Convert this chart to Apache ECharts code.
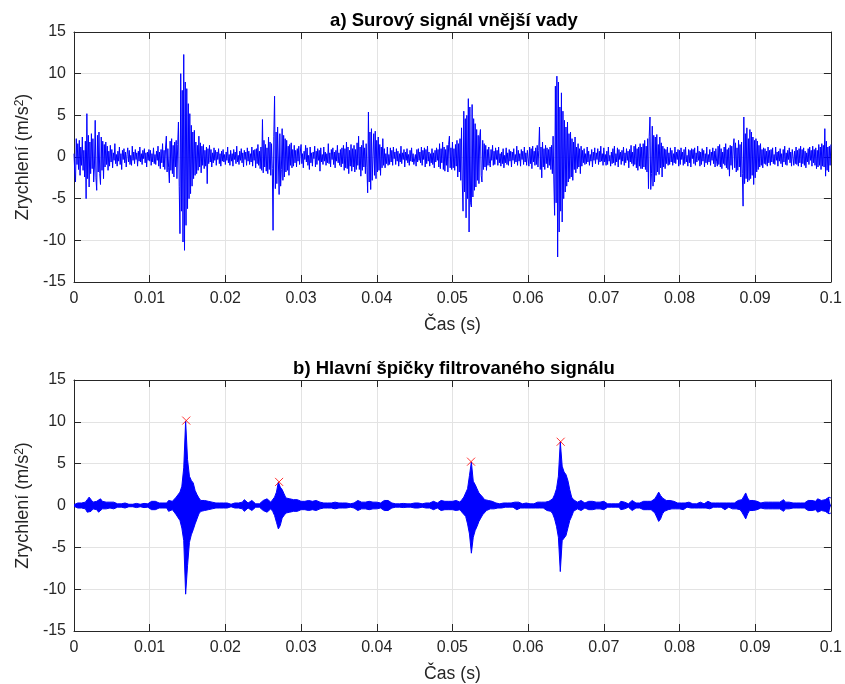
<!DOCTYPE html>
<html><head><meta charset="utf-8">
<script src="https://cdn.jsdelivr.net/npm/echarts@6/dist/echarts.min.js"></script>
<style>html,body{margin:0;padding:0;background:#fff}#c{width:845px;height:684px}</style>
</head><body><div id="c"></div>
<script>
// ---- data ----
const titles = ['a) Surový signál vnější vady', 'b) Hlavní špičky filtrovaného signálu'];
const xLabel = 'Čas (s)';
const yLabel = 'Zrychlení (m/s{sup|2})';

// raw signal, sample step 0.1 ms (one row = 1 ms)
const rawDt = 0.0001;
const rawSignal = [
 0.4,-1.8,-3.0,2.2,-0.9,1.6,-1.5,2.0,-2.2,1.2,
 -1.0,2.4,-1.6,0.8,-2.4,1.9,-5.0,5.2,-2.6,2.6,
 -3.6,1.8,-2.0,2.8,-1.4,2.2,-3.0,-1.2,4.4,-2.5,
 -4.0,2.6,-1.8,3.0,-2.0,-3.3,2.4,-1.6,1.9,-2.6,
 1.5,-1.2,1.8,-0.9,1.3,-1.6,0.7,-1.1,1.4,-0.6,
 0.9,-1.3,0.5,-0.4,1.6,-0.8,0.3,-1.1,0.7,-0.5,
 1.2,-0.9,0.4,-1.5,0.8,-0.3,1.0,-0.7,0.6,-1.2,
 0.3,1.1,-0.6,0.8,-0.9,0.2,-1.0,1.3,-0.4,0.6,
 -0.8,0.9,-0.3,0.5,-1.1,0.7,-0.5,1.2,-0.6,0.4,
 -0.9,0.8,-0.2,1.0,-0.7,0.5,-1.2,0.6,-0.4,0.9,
 -0.5,0.8,-1.0,0.4,-0.6,1.1,-0.8,0.3,-0.9,0.7,
 -0.4,1.3,-1.1,0.6,-1.4,0.9,-0.7,1.6,-1.2,0.8,
 -1.5,1.2,2.5,-1.8,1.0,-1.3,-3.1,1.9,-1.6,2.2,
 -2.0,1.4,-2.4,1.8,-1.2,2.0,-2.6,1.5,4.2,-3.5,
 -9.2,10.0,-6.5,8.0,-10.2,12.3,-11.2,9.0,-8.2,8.2,
 -6.2,6.4,-5.0,5.2,-4.4,3.8,-3.5,3.0,-2.6,3.2,
 -2.2,1.8,-2.0,1.4,-1.6,2.5,-1.2,1.7,-1.9,1.3,
 -1.0,1.5,-1.4,0.8,-1.1,1.2,-3.2,1.0,-0.8,1.4,
 -0.6,0.9,-1.2,0.5,-0.7,1.1,-0.4,0.8,-1.0,0.6,
 -0.3,1.0,-0.8,0.4,-1.1,0.7,-0.5,0.9,-0.6,0.3,
 -0.9,0.6,-0.4,1.2,-0.7,0.3,-1.0,0.8,-0.5,0.4,
 -1.1,0.9,-0.3,0.6,-0.8,1.3,-0.6,0.2,-0.9,0.7,
 -0.4,1.0,-0.7,0.5,-1.2,0.8,-0.3,0.6,-1.0,1.1,
 -0.5,0.7,-0.9,0.4,-0.6,1.2,-1.1,0.8,-0.4,0.9,
 -1.3,1.0,-0.8,1.5,-1.0,0.7,-1.4,1.2,-1.6,4.5,
 -1.9,2.0,-1.2,1.5,-1.7,1.1,-2.0,2.4,-1.5,1.8,
 -2.2,1.6,-1.4,-8.8,2.5,7.3,-3.8,3.0,-3.2,3.6,
 3.5,-4.5,2.8,-3.5,-1.5,3.4,-2.8,2.6,-2.4,2.2,
 -1.8,2.0,-1.6,1.3,-2.2,1.5,-1.0,1.7,-1.3,0.9,
 -1.1,1.4,-0.7,0.8,-1.2,1.0,-0.5,1.3,-0.9,0.6,
 1.5,-0.8,0.4,-1.3,0.7,-0.3,1.4,-0.6,1.1,-1.0,
 0.2,-1.5,1.2,-0.7,0.5,-1.1,0.6,-0.2,1.3,-1.2,
 0.7,-0.9,1.0,-0.4,0.8,-1.7,1.1,-0.6,0.3,-0.9,
 1.2,-0.5,0.6,-1.0,0.4,-0.7,1.6,-0.8,0.5,-1.2,
 0.9,-0.3,1.1,-0.9,0.6,-1.3,0.8,-0.5,1.4,-0.7,
 0.5,-1.0,0.9,-1.2,1.1,-0.8,1.4,-1.6,1.0,-1.3,
 1.8,-1.4,1.2,-2.0,0.8,-1.1,1.5,-1.7,1.0,-1.2,
 1.4,-1.8,0.9,-1.5,1.7,-1.0,2.5,-1.5,1.2,-2.3,
 1.4,-1.6,2.0,-1.2,1.1,-2.0,1.6,-1.3,-4.3,5.4,
 -3.0,3.0,-3.9,3.4,-2.8,-3.0,2.8,-2.2,3.1,-2.6,
 2.0,-1.8,2.4,-1.6,1.5,-2.2,1.2,-1.3,2.2,-1.0,
 1.0,-1.3,0.4,-0.8,1.2,-1.0,0.3,-0.9,1.1,-0.6,
 0.8,-1.0,1.2,-0.2,0.6,-0.9,1.0,-0.5,0.7,-1.1,
 0.4,-0.6,1.3,-0.8,0.5,-0.3,0.9,-1.2,0.6,-0.4,
 1.0,-0.7,0.3,-1.0,0.8,-0.5,1.1,-0.6,0.4,-0.9,
 -0.8,0.3,-1.1,0.9,-0.6,1.0,-0.4,0.6,-0.7,1.2,
 -1.0,0.8,-0.3,1.1,-1.2,0.9,-0.8,1.3,-0.5,0.6,
 -1.1,0.4,-0.7,1.0,-0.9,0.5,-1.3,0.8,-0.6,1.1,
 -0.4,0.9,-1.2,1.6,-1.4,1.0,-0.7,1.8,-1.5,1.2,
 -1.7,0.9,-1.0,1.4,-1.8,1.5,2.5,-1.3,1.1,-1.5,
 1.8,-1.3,1.0,-1.6,1.5,-1.1,2.0,-2.4,1.6,-1.8,
 2.2,-2.8,3.5,-3.0,-6.5,5.5,-4.2,4.6,-7.3,5.0,
 -5.0,7.0,-9.0,6.0,-5.5,-6.0,6.3,-4.8,4.6,-4.0,
 4.0,-3.6,3.3,-2.8,2.6,-3.2,2.4,3.3,-2.2,-3.0,
 2.0,-1.5,1.6,-1.2,1.4,-1.6,0.9,-1.0,1.2,-0.8,
 -1.2,0.9,-0.4,1.4,-1.0,0.7,-0.9,1.1,-0.3,0.8,
 -1.0,1.2,-0.7,0.4,-1.1,0.6,-0.8,1.0,-1.3,0.2,
 -0.7,1.1,-0.9,0.5,-1.0,0.9,-0.5,0.7,-1.2,0.6,
 -0.4,1.0,-0.8,0.3,-0.6,1.3,-1.0,0.8,-0.5,0.4,
 -1.1,0.9,-0.3,0.7,-0.9,1.2,-0.6,0.5,-1.0,0.8,
 0.9,-1.1,1.2,-0.8,1.0,-1.4,1.3,-0.6,0.7,-1.0,
 1.1,-0.9,1.4,-1.2,0.8,3.6,-1.5,1.2,-2.5,1.8,
 -1.2,1.0,-1.5,1.4,-0.8,1.1,-1.3,0.9,-1.0,1.2,
 -1.5,1.4,-2.0,2.5,-3.0,-7.0,8.5,-5.5,9.7,-12.0,
 9.0,-9.0,6.0,-6.5,7.7,-7.8,5.5,-5.0,4.4,-4.2,
 3.6,-3.5,4.2,-3.0,2.8,-2.6,3.0,-2.4,2.2,-2.8,
 1.8,-1.5,2.4,-1.9,1.2,-1.4,1.6,-1.2,1.0,-2.0,
 1.3,-1.1,0.8,-0.7,1.0,-0.9,0.4,-0.8,1.2,-0.6,
 0.7,-1.0,0.3,-0.5,0.9,-1.2,0.6,-0.4,1.1,-0.8,
 0.5,-0.3,1.0,-0.9,0.7,-0.6,1.3,-0.5,0.4,-1.0,
 1.1,-0.6,0.3,-1.0,0.7,-0.9,1.2,-0.5,0.2,-1.1,
 0.6,-0.8,1.0,-0.7,1.3,-1.0,0.4,-0.6,1.1,-1.2,
 0.9,-0.3,0.6,-0.9,0.8,-0.5,1.2,-1.0,0.5,-0.7,
 1.0,-0.4,0.7,-1.3,0.9,-0.6,1.4,-0.8,0.6,-1.1,
 1.3,-0.9,1.5,-1.3,1.0,-1.6,1.2,-1.1,1.6,-1.4,
 1.2,-1.4,1.6,-1.2,2.0,-1.5,1.3,-1.8,2.2,-3.8,
 2.5,4.8,-3.9,-2.0,3.7,-3.5,2.6,-3.0,2.4,-2.2,
 2.7,-1.8,1.5,-2.1,2.4,-1.3,1.7,-2.4,1.3,-1.2,
 1.0,-1.4,0.9,-0.8,1.2,-1.0,0.5,-0.9,1.1,-0.6,
 0.8,-1.0,0.4,-0.7,1.2,-0.8,0.6,-0.3,0.9,-1.1,
 0.8,-0.9,1.1,-0.3,0.6,-1.0,0.9,-0.8,1.2,-0.6,
 0.2,-1.1,0.9,-0.7,0.8,-1.2,1.0,-0.2,0.9,-0.8,
 1.1,-1.0,0.5,-0.6,1.3,-0.4,0.7,-1.1,0.6,-0.9,
 1.0,-0.5,0.8,-1.2,0.4,-0.7,1.2,-0.9,0.3,-0.6,
 0.9,-1.0,0.6,-0.4,1.1,-0.8,0.7,-1.2,1.0,-0.5,
 -1.1,1.3,-0.9,1.5,-1.2,1.0,-1.4,0.6,-0.8,1.2,
 -1.0,1.6,-1.3,0.9,-1.5,1.1,-2.3,1.4,-1.0,1.3,
 -1.5,1.2,2.2,-1.3,1.7,-1.8,1.1,-1.6,2.0,-1.2,
 1.5,-2.4,1.8,-2.0,-5.9,4.8,-3.2,2.8,-2.6,3.5,
 -3.0,2.2,-2.8,3.3,-2.6,3.0,-2.2,2.4,-3.3,2.0,
 -2.5,2.2,-1.8,1.9,-1.5,1.4,-1.2,1.6,-1.0,0.9,
 -1.3,1.1,-0.8,1.0,-0.9,0.7,-1.1,1.2,-0.7,0.8,
 -1.0,0.9,-0.6,1.1,-0.8,0.3,-0.9,1.2,-0.4,0.6,
 -1.1,0.7,-0.5,1.0,-0.8,0.4,-1.2,0.9,-0.6,1.3,
 -0.9,0.5,-1.0,0.8,-0.3,1.1,-0.7,0.6,-1.1,0.9,
 0.9,-1.0,0.7,-0.8,1.2,-0.9,0.8,-1.1,1.0,-0.7,
 1.3,-1.2,0.9,-0.8,1.1,-1.0,0.7,-1.3,0.5,-0.6,
 1.0,-0.9,1.2,-0.4,0.8,-1.1,1.3,-0.7,0.9,-1.0,
 1.1,-1.4,0.8,-1.2,1.5,-1.0,1.2,-1.5,1.6,-1.1,
 1.4,-1.2,3.4,-2.3,1.9,-1.6,1.2,-1.8,1.3,-1.0,
 1.5
];

// filtered signal envelope, sample step 0.25 ms (one row = 5 ms)
const envDt = 0.00025;
const envUpper = [
 0.1,0.2,0.3,0.4,0.3,0.2,0.4,0.7,1.0,0.8,0.4,0.3,0.5,0.7,0.8,0.5,0.3,0.4,0.3,0.4,
 0.3,0.4,0.3,0.2,0.3,0.2,0.2,0.3,0.2,0.15,0.2,0.15,0.2,0.25,0.2,0.15,0.2,0.25,0.3,0.2,
 0.4,0.5,0.3,0.5,0.4,0.3,0.2,0.3,0.4,0.3,0.6,0.8,0.5,0.7,1.0,0.9,1.6,2.3,4.5,10.1,
 5.5,3.5,3.0,2.7,1.8,1.3,0.9,0.6,0.5,0.6,0.4,0.5,0.3,0.4,0.5,0.3,0.4,0.3,0.4,0.3,
 0.4,0.3,0.2,0.15,0.2,0.3,0.2,0.3,0.2,0.4,0.7,0.5,0.3,0.4,0.6,0.4,0.2,0.3,0.2,0.3,
 0.6,0.5,0.8,0.6,0.4,0.6,1.0,1.6,2.8,2.2,1.9,1.4,0.9,0.7,0.8,0.6,0.7,0.5,0.7,0.6,
 0.5,0.7,0.5,0.4,0.6,0.7,0.5,0.4,0.6,0.7,0.4,0.3,0.3,0.4,0.3,0.4,0.3,0.3,0.4,0.3,
 0.3,0.4,0.3,0.2,0.3,0.3,0.2,0.3,0.3,0.4,0.6,0.7,0.4,0.3,0.4,0.3,0.5,0.6,0.4,0.3,
 0.4,0.5,0.3,0.4,0.6,0.8,0.6,0.4,0.3,0.3,0.2,0.25,0.2,0.2,0.25,0.2,0.2,0.25,0.2,0.3,
 0.3,0.2,0.3,0.3,0.2,0.4,0.3,0.2,0.3,0.4,0.5,0.4,0.3,0.5,0.6,0.4,0.5,0.6,0.5,0.6,
 0.5,0.4,0.6,0.5,0.4,0.7,1.0,1.1,2.0,3.6,5.2,2.9,2.5,2.0,1.5,1.3,1.0,0.7,0.5,0.6,
 0.4,0.5,0.4,0.3,0.3,0.2,0.3,0.3,0.2,0.3,0.2,0.3,0.2,0.4,0.5,0.4,0.3,0.2,0.3,0.3,
 0.3,0.2,0.3,0.2,0.3,0.4,0.3,0.4,0.3,0.4,0.6,0.5,0.6,0.8,1.3,2.0,3.5,7.6,4.7,4.0,
 3.7,3.0,1.9,1.0,0.7,0.5,0.4,0.5,0.6,0.4,0.3,0.4,0.5,0.3,0.5,0.3,0.4,0.5,0.4,0.3,
 0.5,0.3,0.2,0.3,0.2,0.3,0.2,0.3,0.2,0.5,0.6,0.4,0.3,0.2,0.4,0.6,0.4,0.3,0.2,0.3,
 0.4,0.5,0.4,0.5,0.4,0.5,0.6,0.8,1.2,1.6,1.2,0.9,0.7,0.6,0.5,0.6,0.4,0.5,0.4,0.3,
 0.4,0.3,0.5,0.3,0.2,0.4,0.3,0.2,0.3,0.2,0.3,0.4,0.3,0.2,0.3,0.5,0.4,0.3,0.2,0.3,
 0.2,0.3,0.2,0.3,0.5,0.3,0.2,0.3,0.4,0.3,0.4,0.6,0.5,0.7,1.1,1.5,0.9,0.6,0.5,0.6,
 0.4,0.5,0.4,0.3,0.5,0.4,0.3,0.4,0.5,0.4,0.3,0.4,0.5,0.4,0.6,0.7,0.4,0.3,0.4,0.3,
 0.3,0.4,0.3,0.4,0.3,0.4,0.3,0.5,0.6,0.5,0.6,0.7,0.5,0.8,0.9,0.6,0.5,0.7,0.9,1.0,0.9
];
const envLower = [
 -0.1,-0.2,-0.3,-0.4,-0.3,-0.2,-0.4,-0.8,-1.0,-0.7,-0.4,-0.3,-0.5,-0.8,-0.7,-0.4,-0.3,-0.4,-0.3,-0.3,
 -0.3,-0.4,-0.3,-0.2,-0.3,-0.2,-0.2,-0.3,-0.2,-0.15,-0.2,-0.15,-0.2,-0.25,-0.2,-0.15,-0.2,-0.25,-0.3,-0.2,
 -0.4,-0.5,-0.3,-0.5,-0.4,-0.3,-0.2,-0.3,-0.4,-0.3,-0.7,-0.8,-0.5,-0.8,-1.1,-1.0,-1.8,-2.7,-4.2,-10.6,
 -7.2,-4.4,-3.5,-2.9,-2.2,-1.6,-1.0,-0.7,-0.5,-0.6,-0.4,-0.5,-0.3,-0.4,-0.5,-0.3,-0.4,-0.3,-0.4,-0.3,
 -0.4,-0.3,-0.2,-0.15,-0.2,-0.3,-0.2,-0.3,-0.2,-0.4,-0.7,-0.5,-0.3,-0.4,-0.6,-0.4,-0.2,-0.3,-0.2,-0.3,
 -0.6,-0.5,-0.8,-0.6,-0.4,-0.7,-1.2,-2.0,-2.8,-2.4,-1.5,-1.2,-0.9,-0.7,-0.8,-0.6,-0.7,-0.5,-0.7,-0.6,
 -0.5,-0.7,-0.5,-0.4,-0.6,-0.7,-0.5,-0.4,-0.6,-0.7,-0.4,-0.3,-0.3,-0.4,-0.3,-0.4,-0.3,-0.3,-0.4,-0.3,
 -0.3,-0.4,-0.3,-0.2,-0.3,-0.3,-0.2,-0.3,-0.3,-0.4,-0.6,-0.7,-0.4,-0.3,-0.4,-0.3,-0.5,-0.6,-0.4,-0.3,
 -0.4,-0.5,-0.3,-0.4,-0.6,-0.8,-0.6,-0.4,-0.3,-0.3,-0.2,-0.25,-0.2,-0.2,-0.25,-0.2,-0.2,-0.25,-0.2,-0.3,
 -0.3,-0.2,-0.3,-0.3,-0.2,-0.4,-0.3,-0.2,-0.3,-0.4,-0.5,-0.4,-0.3,-0.5,-0.6,-0.4,-0.5,-0.6,-0.5,-0.6,
 -0.5,-0.4,-0.6,-0.5,-0.5,-0.8,-1.0,-1.3,-2.2,-3.4,-5.7,-3.8,-3.0,-2.5,-1.9,-1.5,-1.1,-0.9,-0.6,-0.5,
 -0.4,-0.5,-0.4,-0.3,-0.3,-0.2,-0.3,-0.3,-0.2,-0.3,-0.2,-0.3,-0.2,-0.4,-0.5,-0.4,-0.3,-0.2,-0.3,-0.3,
 -0.3,-0.2,-0.3,-0.2,-0.3,-0.4,-0.3,-0.4,-0.3,-0.4,-0.6,-0.5,-0.7,-1.0,-1.6,-2.5,-3.8,-7.9,-4.2,-4.0,
 -3.6,-2.7,-1.8,-1.3,-0.7,-0.5,-0.4,-0.5,-0.6,-0.4,-0.3,-0.4,-0.5,-0.3,-0.5,-0.3,-0.4,-0.5,-0.4,-0.3,
 -0.5,-0.3,-0.2,-0.3,-0.2,-0.3,-0.2,-0.3,-0.2,-0.5,-0.6,-0.4,-0.3,-0.2,-0.4,-0.6,-0.4,-0.3,-0.2,-0.3,
 -0.4,-0.5,-0.4,-0.5,-0.4,-0.5,-0.6,-0.9,-1.4,-1.9,-1.6,-1.0,-0.7,-0.6,-0.5,-0.6,-0.4,-0.5,-0.4,-0.3,
 -0.4,-0.3,-0.5,-0.3,-0.2,-0.4,-0.3,-0.2,-0.3,-0.2,-0.3,-0.4,-0.3,-0.2,-0.3,-0.5,-0.4,-0.3,-0.2,-0.3,
 -0.2,-0.3,-0.2,-0.3,-0.5,-0.3,-0.2,-0.3,-0.4,-0.3,-0.4,-0.6,-0.5,-0.8,-1.2,-1.6,-1.0,-0.6,-0.5,-0.6,
 -0.4,-0.5,-0.4,-0.3,-0.5,-0.4,-0.3,-0.4,-0.5,-0.4,-0.3,-0.4,-0.5,-0.4,-0.6,-0.7,-0.4,-0.3,-0.4,-0.3,
 -0.3,-0.4,-0.3,-0.4,-0.3,-0.4,-0.3,-0.5,-0.6,-0.5,-0.6,-0.7,-0.5,-0.8,-0.9,-0.6,-0.5,-0.7,-0.9,-1.0,-0.9
];

// detected peaks (red crosses)
const peakTimes = [0.01483, 0.0271, 0.05246, 0.0643];
const peakValues = [10.15, 2.82, 5.24, 7.62];

// axis ranges
const xMin = 0, xMax = 0.1, xStep = 0.01;
const yMin = -15, yMax = 15, yStep = 5;

// ---- chart ----
const FONT = 'Helvetica, Arial, "Liberation Sans", sans-serif';
const AX = '#262626';
const GRIDC = '#e3e3e3';
const BLUE = '#0000ff';

function mkX(grid, pos) {
  const main = pos === 'bottom';
  return {
    type: 'value', gridIndex: grid, position: pos, min: xMin, max: xMax, interval: xStep,
    name: main ? xLabel : '', nameLocation: 'middle', nameGap: 34,
    nameTextStyle: { fontFamily: FONT, fontSize: 17.6, color: AX },
    axisLine: { show: true, onZero: false, lineStyle: { color: AX, width: 1 } },
    axisTick: { show: true, inside: true, length: 7, lineStyle: { color: AX, width: 1 } },
    axisLabel: { show: main, margin: 9, fontFamily: FONT, fontSize: 16, color: AX,
      formatter: v => String(parseFloat(Number(v).toFixed(3))) },
    splitLine: { show: main, lineStyle: { color: GRIDC, width: 1 } }
  };
}
function mkY(grid, pos) {
  const main = pos === 'left';
  return {
    type: 'value', gridIndex: grid, position: pos, min: yMin, max: yMax, interval: yStep,
    name: main ? yLabel : '', nameLocation: 'middle', nameGap: 38,
    nameTextStyle: { fontFamily: FONT, fontSize: 18, color: AX,
      rich: { sup: { fontFamily: FONT, fontSize: 12, color: AX, verticalAlign: 'top' } } },
    axisLine: { show: true, onZero: false, lineStyle: { color: AX, width: 1 } },
    axisTick: { show: true, inside: true, length: 7, lineStyle: { color: AX, width: 1 } },
    axisLabel: { show: main, margin: 8, fontFamily: FONT, fontSize: 16, color: AX },
    splitLine: { show: main, lineStyle: { color: GRIDC, width: 1 } }
  };
}

const rawData = rawSignal.map((v, i) => [i * rawDt, v]);
const upData = envUpper.map((v, i) => [i * envDt, v]);
const loData = envLower.map((v, i) => [i * envDt, v]);
const peakData = peakTimes.map((t, i) => [t, peakValues[i]]);

const chart = echarts.init(document.getElementById('c'), null, { renderer: 'canvas' });
chart.setOption({
  animation: false,
  backgroundColor: '#fff',
  title: [
    { text: titles[0], left: 454, top: 11, textAlign: 'center', padding: 0,
      textStyle: { fontFamily: FONT, fontWeight: 'bold', fontSize: 18.5, color: '#000' } },
    { text: titles[1], left: 454, top: 359, textAlign: 'center', padding: 0,
      textStyle: { fontFamily: FONT, fontWeight: 'bold', fontSize: 18.5, color: '#000' } }
  ],
  grid: [
    { left: 74, top: 32, width: 760, height: 250, containLabel: false },
    { left: 74, top: 380, width: 760, height: 252, containLabel: false }
  ],
  xAxis: [mkX(0, 'bottom'), mkX(1, 'bottom'), mkX(0, 'top'), mkX(1, 'top')],
  yAxis: [mkY(0, 'left'), mkY(1, 'left'), mkY(0, 'right'), mkY(1, 'right')],
  series: [
    { type: 'line', xAxisIndex: 0, yAxisIndex: 0, data: rawData, showSymbol: false, symbol: 'none',
      lineStyle: { color: BLUE, width: 1 }, sampling: null, silent: true },
    { type: 'line', xAxisIndex: 1, yAxisIndex: 1, data: upData, showSymbol: false, symbol: 'none',
      lineStyle: { color: BLUE, width: 1 }, areaStyle: { color: BLUE, opacity: 1, origin: -0.12 }, silent: true },
    { type: 'line', xAxisIndex: 1, yAxisIndex: 1, data: loData, showSymbol: false, symbol: 'none',
      lineStyle: { color: BLUE, width: 1 }, areaStyle: { color: BLUE, opacity: 1, origin: 0.12 }, silent: true },
    { type: 'scatter', xAxisIndex: 1, yAxisIndex: 1, data: peakData, z: 10,
      symbol: 'path://M0,0L10,10M10,0L0,10', symbolSize: 8,
      itemStyle: { color: 'rgba(0,0,0,0)', borderColor: '#ff0000', borderWidth: 1 }, silent: true }
  ]
});
</script>
</body></html>
